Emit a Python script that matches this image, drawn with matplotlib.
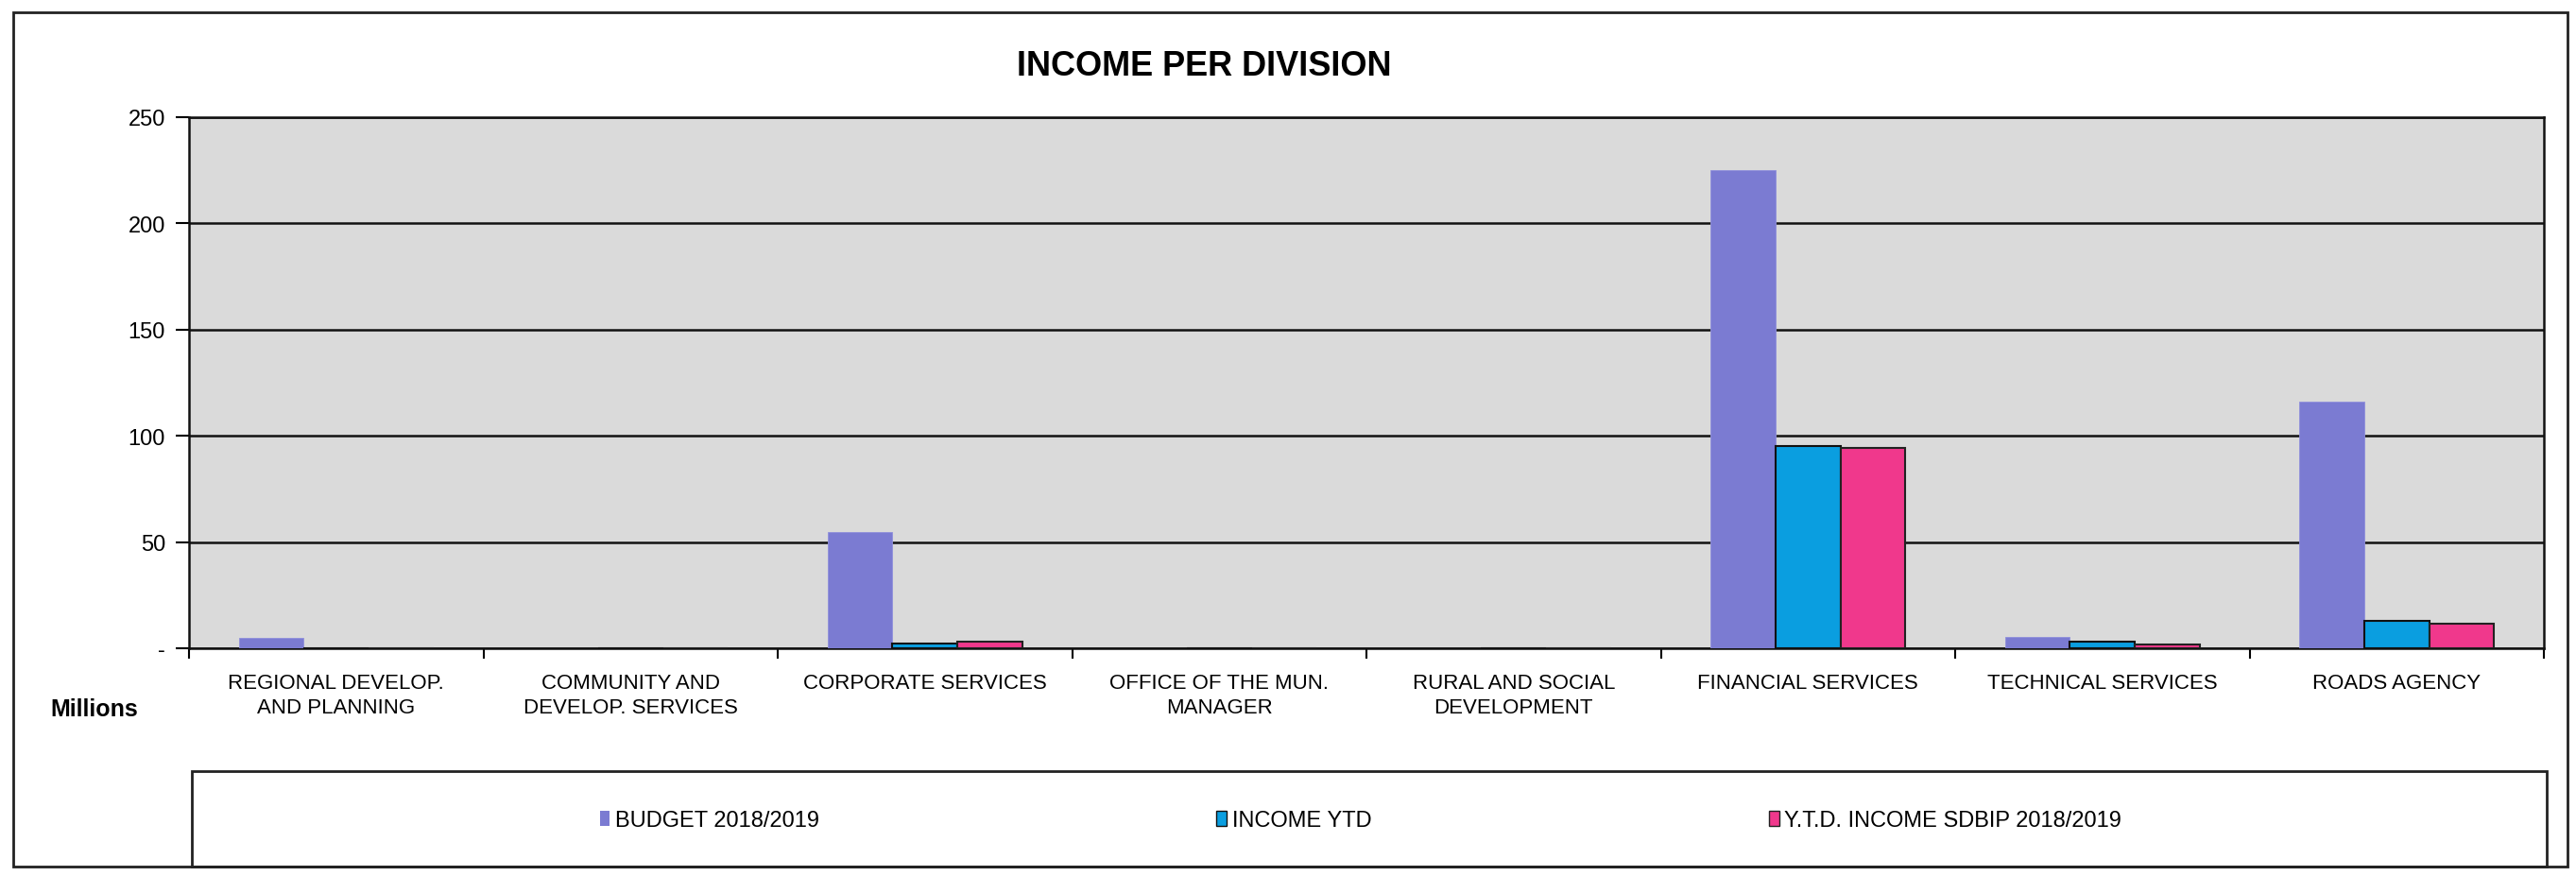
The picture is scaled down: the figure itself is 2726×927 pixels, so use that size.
import numpy as np
import matplotlib
matplotlib.use('Agg')
import matplotlib.pyplot as plt
import matplotlib.patches as mpatches
from matplotlib.font_manager import fontManager

# data (millions)
divisions = ['REGIONAL DEVELOP.\nAND PLANNING', 'COMMUNITY AND\nDEVELOP. SERVICES',
             'CORPORATE SERVICES', 'OFFICE OF THE MUN.\nMANAGER',
             'RURAL AND SOCIAL\nDEVELOPMENT', 'FINANCIAL SERVICES',
             'TECHNICAL SERVICES', 'ROADS AGENCY']
budget = [4.7, 0, 54.5, 0, 0, 225, 5.5, 116]
income_ytd = [0, 0, 2.2, 0, 0, 95, 3, 13]
ytd_sdbip = [0, 0, 3.2, 0, 0, 94.2, 2, 11.5]
series_names = ['BUDGET 2018/2019', 'INCOME YTD', 'Y.T.D. INCOME SDBIP 2018/2019']
yticks = [0, 50, 100, 150, 200, 250]
ytick_labels = ['-', '50', '100', '150', '200', '250']

names = {f.name for f in fontManager.ttflist}
font = 'Liberation Sans Narrow' if 'Liberation Sans Narrow' in names else 'Liberation Sans'
plt.rcParams['font.family'] = [font, 'DejaVu Sans']

W, H = 2726, 928
fig = plt.figure(figsize=(W / 100, H / 100), dpi=100)

def fx(px):
    return px / W

def fy(py):
    return 1 - py / H

# outer chart frame and legend box
fig.patches.append(mpatches.Rectangle((fx(14), fy(918)), fx(2717) - fx(14), fy(14) - fy(918),
                                      transform=fig.transFigure, fill=False, lw=2, ec='#222222'))
fig.patches.append(mpatches.Rectangle((fx(203), fy(918)), fx(2695) - fx(203), fy(817) - fy(918),
                                      transform=fig.transFigure, fill=False, lw=2, ec='#222222'))

ax = fig.add_axes([fx(200), fy(687), fx(2692) - fx(200), fy(125) - fy(687)])
ax.set_facecolor('#dadada')

x = np.arange(len(divisions))
w = 0.22
ax.bar(x - w, budget, w, color='#7b7bd2', edgecolor='#8f8fdc', linewidth=0.6, zorder=3)
ax.bar(x, income_ytd, w, color='#0a9ee0', edgecolor='#111111', linewidth=1.5, zorder=3)
ax.bar(x + w, ytd_sdbip, w, color='#f0388c', edgecolor='#222222', linewidth=1.5, zorder=3)

ax.set_xlim(-0.5, len(divisions) - 0.5)
ax.set_ylim(0, 250)
ax.set_yticks(yticks)
ax.set_yticklabels(ytick_labels, fontsize=17)
ax.yaxis.grid(True, color='#111111', linewidth=1.8, zorder=1)
ax.set_axisbelow(True)

ax.set_xticks(x)
ax.set_xticklabels(divisions, fontsize=16, linespacing=1.3)
ax.set_xticks(np.arange(len(divisions) + 1) - 0.5, minor=True)
ax.tick_params(axis='x', which='major', length=0, pad=19)
ax.tick_params(axis='x', which='minor', length=8, width=1.5, direction='out')
ax.tick_params(axis='y', length=10, width=1.5, pad=8)
for s in ax.spines.values():
    s.set_linewidth(1.8)
    s.set_color('#111111')

fig.text(fx(1274), fy(70), 'INCOME PER DIVISION', fontsize=26, fontweight='bold',
         ha='center', va='center')
fig.text(fx(100), fy(751), 'Millions', fontsize=18, fontweight='bold', ha='center', va='center')

handles = [mpatches.Patch(facecolor='#7b7bd2', edgecolor='none'),
           mpatches.Patch(facecolor='#0a9ee0', edgecolor='#111111'),
           mpatches.Patch(facecolor='#f0388c', edgecolor='#222222')]
fig.legend(handles, series_names, loc='center', bbox_to_anchor=(fx(1440), fy(869)),
           ncol=3, frameon=False, fontsize=17, handlelength=0.45, handleheight=0.65,
           handletextpad=0.25, columnspacing=17.8)

fig.savefig('out.png', dpi=100)
